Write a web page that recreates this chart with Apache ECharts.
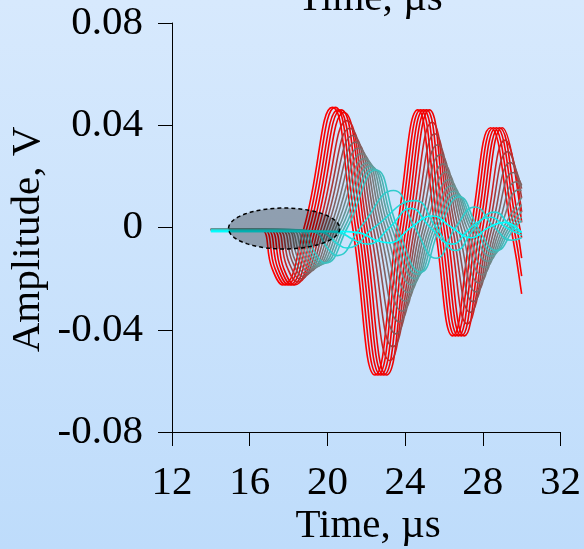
<!DOCTYPE html>
<html><head><meta charset="utf-8">
<script src="https://cdn.jsdelivr.net/npm/echarts@6/dist/echarts.min.js"></script>
<style>html,body{margin:0;padding:0;}#c{width:584px;height:549px;background:linear-gradient(#d7e9fd,#bedcfb);}</style>
</head><body><div id="c"></div>
<script>
const xTicks = [12, 16, 20, 24, 28, 32];
const yTicks = [-0.08, -0.04, 0, 0.04, 0.08];
const axisTitle = 'Time, µs';
const yTitle = 'Amplitude, V';
// ellipse annotation: centre [time, amplitude] and radii
const ellipseCenter = [17.77, -0.0004];
const ellipseRadius = [2.86, 0.008];

const red0 = [[14,-0.0008],[15.9,-0.0008],[16.6,-0.001],[17.15,-0.016],[17.7,-0.0225],[18.8,0],[20.25,0.047],[21.3,0],[22.45,-0.0577],[23.6,0],[24.65,0.046],[25.55,0],[26.45,-0.0424],[27.4,0],[28.4,0.039],[29.45,0],[30,-0.026]];
const red1 = [[14,-0.0008],[16.05,-0.0008],[16.75,-0.001],[17.3,-0.016],[17.85,-0.0225],[18.95,0],[20.4,0.047],[21.45,0],[22.6,-0.0577],[23.75,0],[24.8,0.046],[25.7,0],[26.6,-0.0424],[27.55,0],[28.55,0.039],[29.6,0],[30,-0.019]];
const red2 = [[14,-0.0008],[16.2,-0.0008],[16.9,-0.001],[17.45,-0.016],[18.0,-0.0225],[19.1,0],[20.55,0.046],[21.6,0],[22.75,-0.0577],[23.9,0],[24.95,0.046],[25.85,0],[26.75,-0.0424],[27.7,0],[28.7,0.039],[29.75,0],[30,-0.012]];
const red3 = [[14,-0.0008],[16.35,-0.0008],[17.05,-0.001],[17.6,-0.016],[18.15,-0.0225],[19.25,0],[20.7,0.046],[21.75,0],[22.9,-0.0577],[24.05,0],[25.1,0.046],[26.0,0],[26.9,-0.0424],[27.85,0],[28.85,0.039],[29.9,0],[30,-0.004]];
const red4 = [[14,-0.0008],[16.5,-0.0008],[17.2,-0.001],[17.75,-0.016],[18.3,-0.0225],[19.4,0],[20.85,0.045],[21.9,0],[23.05,-0.0577],[24.2,0],[25.25,0.046],[26.15,0],[27.05,-0.0424],[28.0,0],[29.0,0.039],[30,0.002]];
const gray1 = [[14,-0.0008],[16.65,-0.0008],[17.35,-0.001],[17.9,-0.015],[18.45,-0.0213],[19.55,0],[21.0,0.0418],[22.04,0],[23.21,-0.052],[24.34,0],[25.39,0.0412],[26.3,0],[27.2,-0.0377],[28.18,0],[29.15,0.0342],[30,0.006]];
const gray2 = [[14,-0.0008],[16.8,-0.0008],[17.5,-0.001],[18.04,-0.014],[18.59,-0.0201],[19.7,0],[21.15,0.0388],[22.2,0],[23.37,-0.0466],[24.5,0],[25.53,0.0367],[26.44,0],[27.35,-0.0332],[28.32,0],[29.29,0.0297],[30,0.0116]];
const gray3 = [[14,-0.0008],[16.95,-0.0008],[17.65,-0.001],[18.2,-0.0134],[18.74,-0.0191],[19.85,0],[21.3,0.036],[22.36,0],[23.53,-0.0416],[24.64,0],[25.67,0.0324],[26.58,0],[27.5,-0.029],[28.47,0],[29.44,0.0254],[30,0.0152]];
const gray4 = [[14,-0.0008],[17.1,-0.0008],[17.8,-0.001],[18.33,-0.0127],[18.88,-0.0181],[20.0,0],[21.45,0.0334],[22.52,0],[23.69,-0.0369],[24.79,0],[25.81,0.0285],[26.73,0],[27.65,-0.0252],[28.62,0],[29.58,0.0215],[30,0.0166]];
const gray5 = [[14,-0.0008],[17.25,-0.0008],[17.95,-0.001],[18.48,-0.012],[19.03,-0.0172],[20.15,0],[21.6,0.031],[22.67,0],[23.85,-0.0327],[24.94,0],[25.96,0.0249],[26.88,0],[27.8,-0.0217],[28.77,0],[29.73,0.0179],[30,0.0161]];
const gray6 = [[14,-0.0008],[17.35,-0.0008],[18.05,-0.001],[18.62,-0.0114],[19.17,-0.0163],[20.3,0],[21.75,0.0289],[22.83,0],[24.0,-0.0288],[25.08,0],[26.1,0.0217],[27.03,0],[27.95,-0.0185],[28.91,0],[29.87,0.0147],[30,0.0145]];
const gray7 = [[14,-0.0008],[17.5,-0.0008],[18.2,-0.001],[18.77,-0.0109],[19.32,-0.0156],[20.44,0],[21.9,0.027],[22.98,0],[24.16,-0.0254],[25.23,0],[26.24,0.0187],[27.17,0],[28.1,-0.0156],[29.06,0],[30,0.0117]];
const gray8 = [[14,-0.0008],[17.65,-0.0008],[18.35,-0.001],[18.91,-0.0105],[19.46,-0.015],[20.59,0],[22.05,0.0253],[23.14,0],[24.32,-0.0224],[25.37,0],[26.38,0.0163],[27.32,0],[28.25,-0.0132],[29.2,0],[30,0.009]];
const gray9 = [[14,-0.0008],[17.8,-0.0008],[18.5,-0.001],[19.06,-0.0101],[19.61,-0.0145],[20.73,0],[22.2,0.024],[23.3,0],[24.48,-0.02],[25.51,0],[26.52,0.0142],[27.46,0],[28.4,-0.0112],[29.35,0],[30,0.0063]];
const gray10 = [[14,-0.0008],[17.95,-0.0008],[18.65,-0.001],[19.2,-0.0099],[19.75,-0.0141],[20.88,0],[22.35,0.023],[23.45,0],[24.64,-0.0183],[25.65,0],[26.66,0.0127],[27.6,0],[28.55,-0.0097],[29.5,0],[30,0.0041]];
const teal1 = [[14,-0.0008],[18.1,-0.0008],[18.8,-0.001],[19.35,-0.0097],[19.9,-0.0139],[21.03,0],[22.5,0.0225],[23.61,0],[24.8,-0.0174],[25.8,0],[26.8,0.012],[27.75,0],[28.7,-0.009],[29.65,0],[30,0.0027]];
const cyan1 = [[14,-0.0012],[18.6,-0.0012],[19.4,-0.002],[20.0,-0.008],[20.5,-0.011],[21.7,0],[23.4,0.0145],[24.5,0],[25.6,-0.012],[26.6,0],[27.6,0.008],[28.6,0],[29.5,-0.005],[30,-0.004]];
const cyan2 = [[14,-0.0012],[19.0,-0.0012],[19.8,-0.002],[20.45,-0.006],[21.0,-0.008],[22.4,0],[24.5,0.0105],[25.6,0],[26.6,-0.009],[27.6,0],[28.6,0.006],[29.5,0],[30,-0.002]];
const cyan3 = [[14,-0.0015],[19.5,-0.0015],[20.6,-0.002],[21.4,-0.005],[22.1,-0.0065],[23.2,0],[24.3,0.0075],[25.3,0],[26.4,-0.0065],[27.4,0],[28.4,0.004],[29.2,0],[30,-0.003]];
const cyan4 = [[14,-0.0015],[20.5,-0.0015],[21.6,-0.002],[22.5,-0.005],[23.2,-0.006],[24.3,0],[25.4,0.0045],[26.4,0],[27.4,-0.004],[28.3,0],[29.1,0.002],[30,-0.002]];

const waveforms = [red0, red1, red2, red3, red4, gray1, gray2, gray3, gray4, gray5, gray6, gray7, gray8, gray9, gray10, teal1, cyan1, cyan2, cyan3, cyan4];
const waveColors = ['#ff0000','#fa0000','#f50000','#f00000','#ec0404','#cc2222','#a83a3a','#905050','#846060','#7c7070','#787c7c','#708888','#689494','#5ca0a0','#4cb0b0','#3cc0c0','#30cccc','#20dada','#10eaea','#00ffff'];

const FONT = "'Liberation Serif','Times New Roman',serif";
const FS = 41;
const chart = echarts.init(document.getElementById('c'), null, {renderer: 'canvas'});
const axisCommon = {
  axisLine: {show: true, onZero: false, lineStyle: {color: '#000', width: 1}},
  axisTick: {show: true, inside: false, length: 14, lineStyle: {color: '#000', width: 1}},
  splitLine: {show: false},
  axisLabel: {color: '#000', fontFamily: FONT, fontSize: FS}
};
const option = {
  animation: false,
  backgroundColor: 'transparent',
  grid: {left: 172, right: 20, top: 23, bottom: 117, containLabel: false},
  xAxis: Object.assign({}, axisCommon, {
    type: 'value', min: xTicks[0], max: xTicks[xTicks.length-1], interval: xTicks[1]-xTicks[0],
    axisLabel: Object.assign({}, axisCommon.axisLabel, {margin: 31})
  }),
  yAxis: Object.assign({}, axisCommon, {
    type: 'value', min: yTicks[0], max: yTicks[yTicks.length-1], interval: yTicks[1]-yTicks[0],
    axisLabel: Object.assign({}, axisCommon.axisLabel, {margin: 29})
  }),
  series: waveforms.map((d, i) => ({
    type: 'line', data: d, smooth: 0.5, symbol: 'none', silent: true,
    lineStyle: {color: waveColors[i], width: 1.6}, z: 2
  })),
  graphic: [
    {type: 'text', x: 368, y: 526, style: {text: axisTitle, font: FS + 'px ' + FONT, fill: '#000', align: 'center', verticalAlign: 'middle'}},
    {type: 'text', x: 370, y: -1, style: {text: axisTitle, font: FS + 'px ' + FONT, fill: '#000', align: 'center', verticalAlign: 'middle'}},
    {type: 'text', x: 28, y: 239.5, rotation: Math.PI/2, style: {text: yTitle, font: FS + 'px ' + FONT, fill: '#000', align: 'center', verticalAlign: 'middle'}}
  ]
};
chart.setOption(option);
const c = chart.convertToPixel({gridIndex: 0}, ellipseCenter);
const e = chart.convertToPixel({gridIndex: 0}, [ellipseCenter[0] + ellipseRadius[0], ellipseCenter[1] + ellipseRadius[1]]);
const rx = Math.abs(e[0] - c[0]), ry = Math.abs(e[1] - c[1]);
const pts = [];
for (let k = 0; k < 96; k++) { const a = k / 96 * Math.PI * 2; pts.push([c[0] + rx * Math.cos(a), c[1] + ry * Math.sin(a)]); }
chart.setOption({graphic: option.graphic.concat([{
  type: 'polygon', z: 100, shape: {points: pts},
  style: {fill: 'rgba(0,0,0,0.3)', stroke: '#000', lineWidth: 1.5, lineDash: [4, 3]}
}])});
</script></body></html>
